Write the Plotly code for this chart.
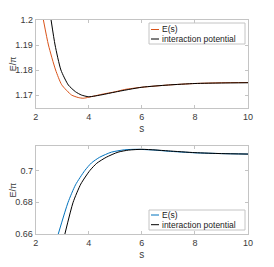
import plotly.graph_objects as go

# ---- data ----
s_top_E = [2.29, 2.48, 2.75, 2.98, 3.35, 3.6, 3.79, 4.0, 4.5, 5.0, 5.35, 6.0, 7.0, 8.0, 9.0, 10.0]
E_top = [1.2, 1.19, 1.18, 1.1741, 1.1700, 1.1690, 1.1687, 1.1691, 1.1703, 1.1713, 1.1722, 1.1731, 1.1740, 1.1746, 1.1749, 1.1750]
s_top_V = [2.58, 2.73, 2.95, 3.23, 3.5, 3.72, 4.0, 4.5, 5.0, 6.0, 7.0, 8.0, 9.0, 10.0]
V_top = [1.2, 1.19, 1.18, 1.1740, 1.1713, 1.1700, 1.1693, 1.1701, 1.1712, 1.1731, 1.1740, 1.1746, 1.1748, 1.1749]

s_bot_E = [2.85, 3.22, 3.5, 3.85, 4.1, 4.41, 4.85, 5.35, 5.8, 6.5, 7.0, 8.0, 9.0, 10.0]
E_bot = [0.66, 0.68, 0.691, 0.70, 0.7048, 0.7084, 0.7116, 0.7131, 0.7134, 0.7129, 0.7122, 0.7112, 0.7107, 0.7104]
s_bot_V = [3.1, 3.41, 3.7, 4.04, 4.3, 4.66, 5.1, 5.5, 6.0, 6.5, 7.0, 8.0, 9.0, 10.0]
V_bot = [0.66, 0.68, 0.6915, 0.70, 0.7046, 0.7084, 0.7116, 0.7129, 0.7134, 0.7130, 0.7124, 0.7113, 0.7107, 0.7104]

x_ticks = [2, 4, 6, 8, 10]
y_top_ticks = [1.17, 1.18, 1.19, 1.2]
y_top_labels = ["1.17", "1.18", "1.19", "1.2"]
y_bot_ticks = [0.66, 0.68, 0.70]
y_bot_labels = ["0.66", "0.68", "0.7"]
legend_labels = ["E(s)", "interaction potential"]

ORANGE = "#D95319"
BLUE = "#0072BD"
BLACK = "#000000"
OFF = 8                       # page body margin
W, H = 274 - OFF, 267 - OFF   # figure size

def px(x):
    return (x - OFF) / W

def py(y):
    return 1 - (y - OFF) / H

FONT = "Liberation Sans, Arial"
LW = 1.0
TXT = "#3a3a3a"

fig = go.Figure()
fig.add_trace(go.Scatter(x=s_top_E, y=E_top, mode="lines", line=dict(color=ORANGE, width=LW, shape="spline", smoothing=0.6), xaxis="x", yaxis="y", showlegend=False))
fig.add_trace(go.Scatter(x=s_top_V, y=V_top, mode="lines", line=dict(color=BLACK, width=LW, shape="spline", smoothing=0.6), xaxis="x", yaxis="y", showlegend=False))
fig.add_trace(go.Scatter(x=s_bot_E, y=E_bot, mode="lines", line=dict(color=BLUE, width=LW, shape="spline", smoothing=0.6), xaxis="x2", yaxis="y2", showlegend=False))
fig.add_trace(go.Scatter(x=s_bot_V, y=V_bot, mode="lines", line=dict(color=BLACK, width=LW, shape="spline", smoothing=0.6), xaxis="x2", yaxis="y2", showlegend=False))

AX = dict(showline=True, linecolor="#c4c4c4", linewidth=1, mirror="ticks", ticks="inside",
          ticklen=3, tickcolor="#c4c4c4", showgrid=False, zeroline=False,
          tickfont=dict(family=FONT, size=9, color=TXT))
xdom = [px(35.7), px(248)]
fig.update_layout(
    width=W, height=H, margin=dict(l=0, r=0, t=0, b=0),
    paper_bgcolor="white", plot_bgcolor="white", showlegend=False,
    xaxis=dict(AX, domain=xdom, range=[2, 10], tickvals=x_ticks, anchor="y",
               title=dict(text="s", font=dict(family=FONT, size=10, color=TXT), standoff=4)),
    yaxis=dict(AX, domain=[py(108), py(20)], range=[1.1648, 1.2], tickvals=y_top_ticks, ticktext=y_top_labels, anchor="x",
               title=dict(text="E/π", font=dict(family=FONT, size=9, color=TXT), standoff=5)),
    xaxis2=dict(AX, domain=xdom, range=[2, 10], tickvals=x_ticks, anchor="y2",
                title=dict(text="s", font=dict(family=FONT, size=10, color=TXT), standoff=4)),
    yaxis2=dict(AX, domain=[py(234), py(146.3)], range=[0.66, 0.7153], tickvals=y_bot_ticks, ticktext=y_bot_labels, anchor="x2",
                title=dict(text="E/π", font=dict(family=FONT, size=9, color=TXT), standoff=5)),
)
for a in ["xaxis", "yaxis", "xaxis2", "yaxis2"]:
    fig.layout[a].automargin = False

# MATLAB-style legend boxes
def add_legend(box, rows, colors):
    x0, y0, x1, y1 = box
    fig.add_shape(type="rect", xref="paper", yref="paper", x0=px(x0), x1=px(x1), y0=py(y1), y1=py(y0),
                  line=dict(color="#c4c4c4", width=1), fillcolor="white", layer="above")
    for ry, c, lab in zip(rows, colors, legend_labels):
        fig.add_shape(type="line", xref="paper", yref="paper", x0=px(x0 + 2), x1=px(x0 + 10),
                      y0=py(ry), y1=py(ry), line=dict(color=c, width=LW), layer="above")
        fig.add_annotation(xref="paper", yref="paper", x=px(x0 + 11), y=py(ry), text=lab,
                           xanchor="left", yanchor="middle", showarrow=False,
                           font=dict(family=FONT, size=8.5, color="#222222"))

add_legend((149, 23, 245, 44), [29.5, 39], [ORANGE, BLACK])
add_legend((149, 210, 245, 230), [215, 224.7], [BLUE, BLACK])

fig.write_html("out.html")
